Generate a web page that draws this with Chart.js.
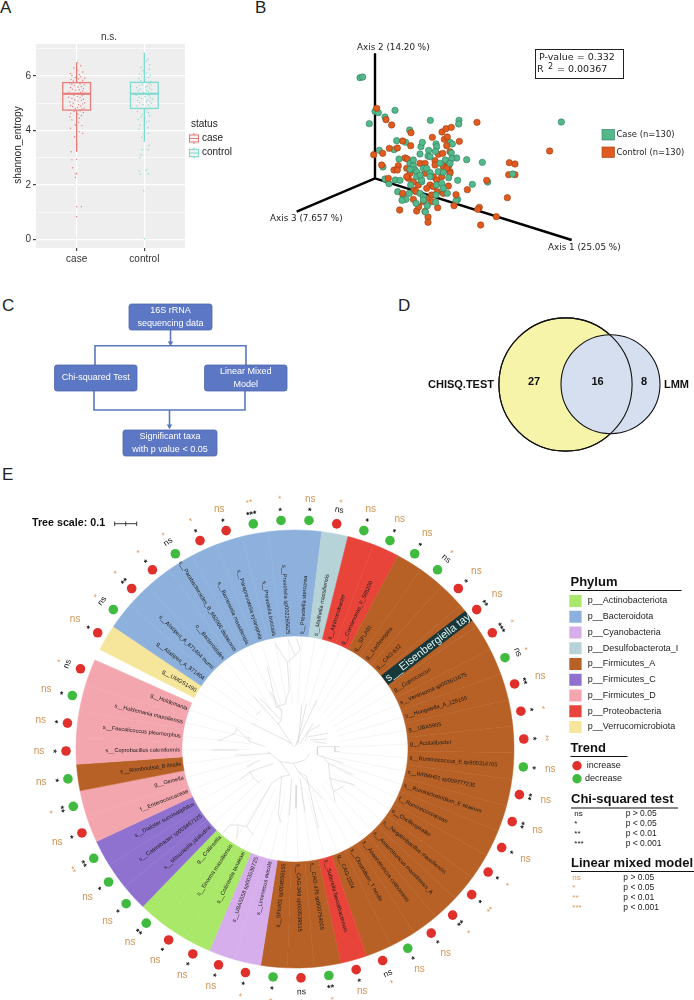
<!DOCTYPE html>
<html>
<head>
<meta charset="utf-8">
<title>Microbiome figure</title>
<script src="https://cdn.jsdelivr.net/npm/chart.js@4"></script>
<style>
  html, body { margin: 0; padding: 0; background: #fff; width: 694px; height: 1000px; overflow: hidden; }
  canvas { position: absolute; }
  .panel { position: absolute; font: 300 17px/1 "Liberation Sans", sans-serif; color: #222; }
</style>
</head>
<body>
<div class="panel" style="left:0;top:-1px">A</div>
<div class="panel" style="left:255px;top:-1px">B</div>
<div class="panel" style="left:2px;top:297px">C</div>
<div class="panel" style="left:398px;top:297px">D</div>
<div class="panel" style="left:2px;top:466px">E</div>

<canvas id="boxChart" width="250" height="270" style="left:0;top:0"></canvas>
<canvas id="pcoaChart" width="444" height="270" style="left:250px;top:0"></canvas>
<canvas id="flowChart" width="320" height="190" style="left:0;top:280px"></canvas>
<canvas id="vennChart" width="374" height="190" style="left:320px;top:280px"></canvas>
<canvas id="ringChart" width="694" height="520" style="left:0;top:489px"></canvas>
<canvas id="treeChart" width="230" height="230" style="left:180px;top:635px"></canvas>

<script>
// ---------- panel A data ----------
const boxGroups = ['case', 'control'];
const boxQ1 = [4.75, 4.81];
const boxMedian = [5.35, 5.35];
const boxQ3 = [5.76, 5.77];
const boxLow = [3.22, 3.59];
const boxHigh = [6.5, 6.84];
const boxColors = ['#e67d7b', '#7fdbd0'];
const shannonTicks = [0, 1, 2, 3, 4, 5, 6, 7];

const caseShannon = [0.83, 1.2, 1.2, 2.27, 2.4, 2.43, 2.63, 2.92, 2.94, 3.22,
  3.26, 3.4, 3.5, 3.62, 3.77, 3.9, 3.96, 4.08, 4.18, 4.2,
  4.3, 4.39, 4.45, 4.5, 4.55, 4.6, 4.63, 4.66, 4.7, 4.72,
  4.75, 4.78, 4.8, 4.82, 4.85, 4.88, 4.9, 4.92, 4.95, 4.98,
  5.0, 5.02, 5.05, 5.08, 5.1, 5.12, 5.15, 5.18, 5.2, 5.22,
  5.25, 5.28, 5.3, 5.32, 5.35, 5.37, 5.4, 5.42, 5.45, 5.48,
  5.5, 5.52, 5.55, 5.58, 5.6, 5.62, 5.65, 5.68, 5.7, 5.72,
  5.75, 5.78, 5.8, 5.82, 5.85, 5.88, 5.9, 5.92, 5.95, 5.98,
  6.02, 6.05, 6.1, 6.15, 6.22, 6.3, 6.38, 6.5];
const caseJitter = [0, 0, 0.07, -0.02, -0.01, 0, -0.06, -0.07, 0, -0.08,
  0, 0, 0.01, 0, -0.03, 0.09, 0.04, -0.09, 0.08, -0.02,
  0.03, -0.07, 0.04, -0.1, 0.07, 0.02, -0.09, 0.1, -0.04, 0.05,
  -0.11, 0.08, -0.02, 0.11, 0.01, -0.06, 0.06, -0.09, 0.03, 0.09,
  -0.05, 0.12, -0.1, 0.02, 0.07, -0.03, 0.1, -0.07, 0.05, -0.12,
  0.01, 0.08, -0.04, 0.11, -0.08, 0.03, 0.06, -0.11, 0.09, -0.01,
  0.04, -0.06, 0.1, -0.09, 0.02, 0.07, -0.03, 0.11, -0.07, 0.05,
  -0.1, 0.08, 0, -0.05, 0.09, -0.08, 0.03, 0.12, -0.02, 0.06,
  -0.07, 0.04, -0.09, 0.09, 0.02, -0.04, 0.06, 0.01];
const controlShannon = [0.02, 1.78, 2.4, 2.4, 2.5, 2.55, 3.0, 3.1, 3.3, 3.3,
  3.45, 3.6, 3.75, 3.9, 4.05, 4.1, 4.2, 4.3, 4.35, 4.4,
  4.45, 4.5, 4.55, 4.6, 4.65, 4.7, 4.75, 4.8, 4.83, 4.86,
  4.9, 4.93, 4.96, 5.0, 5.03, 5.06, 5.08, 5.1, 5.12, 5.15,
  5.18, 5.2, 5.22, 5.25, 5.28, 5.3, 5.33, 5.36, 5.38, 5.4,
  5.43, 5.46, 5.48, 5.5, 5.53, 5.56, 5.58, 5.6, 5.63, 5.66,
  5.68, 5.7, 5.73, 5.76, 5.78, 5.8, 5.83, 5.86, 5.9, 5.95,
  6.0, 6.03, 6.08, 6.12, 6.2, 6.25, 6.32, 6.42, 6.55, 6.62, 6.84];
const controlJitter = [0, -0.01, -0.06, 0.06, -0.08, 0.03, -0.07, -0.05, -0.03, 0.05,
  0.07, 0, -0.04, 0.06, -0.08, 0.05, -0.06, 0.03, 0.07, -0.09,
  0.01, -0.05, 0.08, -0.03, 0.06, -0.1, 0.04, -0.07, 0.09, 0.02,
  -0.11, 0.06, -0.02, 0.1, -0.07, 0.03, 0.08, -0.1, 0.05, 0.12,
  -0.04, 0.09, -0.08, 0.01, 0.07, -0.12, 0.04, -0.05, 0.1, -0.01,
  0.06, -0.09, 0.03, 0.11, -0.06, 0.08, -0.11, 0.02, 0.05, -0.07,
  0.1, -0.03, 0.07, -0.1, 0.04, 0.09, -0.05, 0.01, -0.08, 0.06,
  -0.04, 0.09, -0.07, 0.03, -0.02, 0.07, -0.05, 0.08, 0.03, 0.05, 0];

// ---------- panel B data (projected axis positions, y grows downward) ----------
const caseBackX = [330, 338, 375, 385, 435, 405, 358, 541, 627, 626, 934, 479, 440, 467, 388, 432, 513, 517, 558, 560, 600, 607, 399, 405, 436, 450, 417, 443, 459, 468, 456, 713, 623, 618];
const caseBackY = [233, 231, 334, 338, 331, 351, 371, 361, 361, 372, 366, 390, 422, 427, 451, 449, 440, 427, 432, 440, 427, 432, 501, 537, 540, 541, 551, 575, 588, 598, 601, 546, 598, 603];
const controlX = [380, 408, 425, 483, 371, 398, 395, 418, 442, 458, 482, 547, 576, 588, 604, 681, 583, 592, 628, 590, 899, 778, 795, 776, 795, 710, 652, 772, 618, 612, 688, 683, 739, 692, 449, 534, 534, 500, 525, 506, 563, 545, 520, 490, 458, 492, 475, 480, 470, 445, 432, 442, 415, 465, 472, 510, 525, 555, 565, 578, 596, 590, 580, 600, 555, 550, 540, 530, 545, 562, 580, 595, 600, 575, 498, 530, 505, 490, 470, 550, 590, 525, 560, 600];
const controlY = [325, 359, 375, 398, 464, 460, 495, 445, 444, 423, 437, 412, 396, 386, 382, 367, 418, 411, 424, 437, 453, 488, 492, 524, 524, 541, 569, 593, 584, 617, 622, 628, 650, 675, 630, 651, 667, 633, 634, 620, 623, 605, 605, 598, 580, 570, 535, 520, 505, 497, 510, 510, 535, 474, 477, 490, 490, 482, 463, 460, 497, 495, 500, 515, 495, 530, 555, 565, 585, 575, 580, 558, 520, 530, 575, 595, 555, 545, 530, 560, 505, 520, 540, 455];
const caseFrontX = [556, 536, 510, 604, 620, 605, 586, 650, 697, 534, 447, 480, 490, 495, 480, 500, 520, 540, 565, 580, 596, 623, 667, 478, 482, 515, 510, 520, 515, 540, 560, 575, 580, 558, 520, 498, 557, 532, 526, 592, 500, 540, 490, 570, 600, 530, 510, 788];
const caseFrontY = [454, 451, 462, 459, 474, 476, 480, 479, 487, 468, 477, 490, 497, 510, 508, 516, 505, 518, 515, 517, 533, 541, 553, 580, 555, 545, 580, 590, 540, 530, 555, 550, 565, 585, 600, 610, 607, 617, 636, 580, 530, 470, 480, 490, 490, 505, 525, 522];
const axisX = [375, 375, null, 375, 965, null, 375, 140];
const axisY = [535, 160, null, 535, 720, null, 535, 635];
const pcoaLegend = ['Case (n=130)', 'Control (n=130)'];
const pcoaColors = ['#53b98b', '#e15a20'];
const pcoaBorders = ['#2f7a5c', '#96400f'];

// ---------- panel C data (page layout units) ----------
const flowBoxNames = [['16S rRNA', 'sequencing data'], ['Chi-squared Test'], ['Linear Mixed', 'Model'], ['Significant taxa', 'with p value < 0.05']];
const flowBoxLeft = [129, 54.5, 204.5, 123];
const flowBoxRight = [212, 137, 287, 217];
const flowBoxTop = [304, 365, 365, 430];
const flowBoxBottom = [330, 391, 391, 456];
const flowLineX = [170.5, 170.5, null, 95, 95, 246, 246, null, 94, 94, 245, 245, null, 169.5, 169.5];
const flowLineY = [330, 344, null, 365, 345.7, 345.7, 365, null, 391, 410, 410, 391, null, 410, 427];
const flowArrowX = [170.5, 169.5];
const flowArrowY = [343, 426];

// ---------- panel D data ----------
const vennNames = ['CHISQ.TEST', 'LMM'];
const vennCounts = ['27', '16', '8'];
const vennX = [565.5, 610.5];
const vennY = [384.5, 384.2];
const vennR = [66.6, 49.5];

// ---------- panel E data ----------
const phylumNames = ['p__Actinobacteriota', 'p__Bacteroidota', 'p__Cyanobacteria', 'p__Desulfobacterota_I', 'p__Firmicutes_A',
  'p__Firmicutes_C', 'p__Firmicutes_D', 'p__Proteobacteria', 'p__Verrucomicrobiota'];
const phylumColors = ['#a9e868', '#8db1dc', '#d7aeec', '#b6d3d8', '#b86126', '#8f72cf', '#f3a6ae', '#e9443a', '#f5e69b'];
const trendNames = ['increase', 'decrease'];
const trendColors = ['#e0302b', '#40bb40'];
const sigLevels = ['ns', '*', '**', '***'];
const sigThresholds = ['p > 0.05', 'p < 0.05', 'p < 0.01', 'p < 0.001'];

const taxa = ['g__UMGS1490', 'g__Alistipes_A_871404', 's__Alistipes_A_871404 ihumii', 'o__Bacteroidales',
  's__Parabacteroides_B_862066 distasonis', 's__Barnesiella massiliensis', 's__Paraprevotella xylaniphila',
  's__Prevotella buccalis', 's__Prevotella sp002265625', 's__Prevotella stercorea', 's__Mailhella massiliensis',
  's__Atrimonobacter', 'g__Comamonas_F_585200', 'g__SFLA01', 'g__Lachnospira', 'g__CAG-632',
  's__Eisenbergiella tay', 'g__Coprococcus', 's__Ventrisoma sp003611675', 's__Hungatella_A_128155', 'g__UBA5905',
  'g__Acutalibacter', 's__Ruminococcus_E sp900314705', 's__WRMH01 sp009777235', 's__Ruminiclostridium_E siraeum',
  'f__Ruminococcaceae', 'o__Oscillospirales', 's__Negativibacillus massiliensis', 's__Anaerotruncus massiliensis_A',
  's__Anaerotruncus colihominis', 's__Clostridium_T nexile', 'g__CAG-1024', 's__Sutterella faecalibacterium',
  's__CAG-475 sp900754005', 's__CAG-349 sp003539515', 's__SFMI01 sp004556155', 's__Limenecus avicola',
  's__UBA5558 sp003539725', 's__Collinsella tanakaei', 's__Enorma massiliensis', 'g__Collinsella',
  's__Mitsuokella jalaludinii', 's__Catenibacter sp003467125', 's__Dialister succinatiphilus', 'f__Enterococcaceae',
  'g__Gemella', 's__Romboutsia_B ilealis', 's__Coprobacillus cateniformis', 's__Faecalicoccus pleomorphus',
  's__Holdemania massiliensis', 'g__Holdemania'];
const taxonPhylum = [8, 1, 1, 1, 1, 1, 1, 1, 1, 1, 3, 7, 7,
  4, 4, 4, 4, 4, 4, 4, 4, 4, 4, 4, 4, 4, 4, 4, 4, 4, 4, 4,
  7, 4, 4, 4, 2, 2, 0, 0, 0, 5, 5, 5, 6, 6, 4, 6, 6, 6, 6];
const taxonWeight = [1, 1, 1, 1, 1, 1, 1, 1, 1, 1, 1, 1, 1, 1, 1, 1, 1, 1, 1, 1, 1, 1, 1, 1, 1, 1,
  1, 1, 1, 1, 1, 1, 1, 1, 1, 1, 1, 1, 1, 1, 1, 1, 1, 1, 1, 1, 1, 1, 1, 1, 1];
// 0 increase, 1 decrease
const taxonTrend = [0, 1, 0, 0, 1, 0, 0, 1, 1, 1,
  0, 1, 1, 1, 1, 0, 0, 0, 1, 0,
  0, 0, 1, 0, 0, 0, 0, 0, 0, 0,
  1, 0, 0, 1, 0, 1, 0, 0, 0, 0,
  1, 1, 1, 1, 0, 1, 1, 0, 0, 1, 0];
const chiSig = ['*', 'ns', '**', '*', 'ns', '*', '*', '***', '*', '*',
  'ns', '*', '*', '*', 'ns', '*', '**', '***', 'ns', '**',
  '*', '*', '*', '**', '**', '*', '*', '*', '**', '*',
  '*', 'ns', '*', '**', 'ns', '*', '*', '*', '*', '*',
  '**', '*', '*', '**', '*', '**', '*', '*', '*', '*', 'ns'];
const lmmSig = ['ns', '*', '*', '*', '*', '*', 'ns', '**', '*', 'ns',
  '*', 'ns', 'ns', 'ns', '*', 'ns', 'ns', '*', '*', 'ns',
  '*', '**', 'ns', 'ns', 'ns', 'ns', '*', '**', '*', 'ns',
  'ns', '*', 'ns', '*', '*', '*', '*', 'ns', 'ns', 'ns',
  'ns', 'ns', 'ns', '**', 'ns', '*', 'ns', 'ns', 'ns', 'ns', '*'];
const highlightTaxon = 's__Eisenbergiella tay';

// tree branches, in the coordinates of the inner circle crop; null breaks a branch
const treeX = [340, 295, 222, null, 295, 303, 240, null, 303, 306, 270, null, 306, 289, 262, null, 289, 314, 328, 322, 285, null,
  322, 345, 325, null, 345, 360, 350, null, 335, 215, null, 228, 245, null, 345, 410, null, 350, 380, null, 355, 365, null,
  360, 400, null, 375, 385, 420, null, 385, 445, null, 390, 440, null, 400, 440, null, 412, 480, null, 465, 465, 480, null,
  412, 412, 490, null, 425, 445, 520, null, 445, 450, 525, null, 450, 460, 490, null, 460, 465, null,
  390, 375, 340, 300, 270, 262, null, 340, 355, 425, null, 355, 380, 415, null, 360, 375, null, 350, 348, null, 335, 328, null,
  300, 330, 305, 295, 305, null, 305, 275, 200, 220, null, 200, 175, 170, null, 175, 150, 132, null,
  270, 205, 165, null, 255, 210, 170, 165, 115, null, 210, 205, null, 175, 95, null, 280, 210, 180, null, 210, 220, 240, null, 240, 200];
const treeY = [335, 268, 185, null, 268, 256, 190, null, 256, 228, 170, null, 228, 215, 95, null, 215, 208, 165, 82, 25, null,
  82, 62, 15, null, 62, 45, 10, null, 325, 265, null, 240, 225, null, 335, 195, null, 330, 205, null, 325, 210, null,
  325, 265, null, 320, 290, 270, null, 305, 295, null, 315, 312, null, 320, 325, null, 335, 335, null, 335, 350, 350, null,
  335, 360, 385, null, 360, 385, 420, null, 385, 430, 450, null, 430, 470, 455, null, 470, 500, null,
  355, 375, 385, 380, 355, 350, null, 385, 410, 490, null, 410, 425, 580, null, 430, 530, null, 450, 520, null, 430, 540, null,
  380, 420, 425, 540, 565, null, 425, 445, 575, 600, null, 575, 570, 610, null, 570, 570, 590, null,
  355, 360, 360, null, 335, 320, 280, 295, 318, null, 320, 305, null, 345, 345, null, 385, 410, 435, null, 410, 430, 445, null, 375, 395];

// ---------- shared helpers ----------
const SANS = '"Liberation Sans", Arial, sans-serif';
const DEJA = '"DejaVu Sans", Verdana, sans-serif';
Chart.defaults.font.family = SANS;
Chart.defaults.animation = false;
Chart.defaults.responsive = false;
Chart.defaults.devicePixelRatio = 1;
Chart.defaults.layout.autoPadding = false;
Chart.defaults.plugins.legend.display = false;
Chart.defaults.plugins.tooltip.enabled = false;

const toPoints = (xs, ys) => xs.map((x, i) => (x === null ? { x: NaN, y: NaN } : { x: x, y: ys[i] }));

function put(ctx, text, x, y, font, color, align, rot) {
  ctx.save();
  ctx.translate(x, y);
  if (rot) ctx.rotate(rot);
  ctx.font = font;
  ctx.fillStyle = color;
  ctx.textAlign = align || 'left';
  ctx.textBaseline = 'middle';
  ctx.fillText(text, 0, 0);
  ctx.restore();
}

// ---------- panel A ----------
new Chart(document.getElementById('boxChart'), {
  type: 'scatter',
  data: {
    datasets: [
      { data: caseJitter.map((j, i) => ({ x: 1 + j, y: caseShannon[i] })), pointRadius: 0.7, pointBackgroundColor: boxColors[0], pointBorderWidth: 0 },
      { data: controlJitter.map((j, i) => ({ x: 2 + j, y: controlShannon[i] })), pointRadius: 0.7, pointBackgroundColor: boxColors[1], pointBorderWidth: 0 }
    ]
  },
  options: {
    layout: { padding: { top: 44, right: 65 } },
    scales: {
      x: {
        min: 0.4, max: 2.6,
        afterFit: s => { s.height = 22; },
        afterBuildTicks: s => { s.ticks = boxGroups.map((g, i) => ({ value: i + 1 })); },
        ticks: { callback: v => boxGroups[v - 1], color: '#333', font: { size: 10 }, padding: 2, maxRotation: 0 },
        grid: { color: '#fff', lineWidth: 1.2, tickColor: '#444', tickLength: 3 },
        border: { display: false }
      },
      y: {
        min: -0.32, max: 7.18,
        afterFit: s => { s.width = 36; },
        afterBuildTicks: s => { s.ticks = shannonTicks.map(v => ({ value: v })); },
        ticks: { autoSkip: false, callback: v => (v % 2 === 0 ? v : ''), color: '#333', font: { size: 10 }, padding: 2 },
        grid: {
          color: '#fff',
          lineWidth: c => (c.tick && c.tick.value % 2 === 0 ? 1.2 : 0.6),
          tickColor: c => (c.tick && c.tick.value % 2 === 0 ? '#444' : 'rgba(0,0,0,0)'),
          tickLength: 3
        },
        border: { display: false }
      }
    }
  },
  plugins: [{
    id: 'panelBack',
    beforeDraw(chart) {
      const { ctx, chartArea: a } = chart;
      ctx.fillStyle = '#eeeeee';
      ctx.fillRect(a.left, a.top, a.width, a.height);
    },
    afterDatasetsDraw(chart) {
      const { ctx, scales: { x, y } } = chart;
      boxGroups.forEach((g, i) => {
        const cx = x.getPixelForValue(i + 1);
        const half = x.getPixelForValue(0.205) - x.getPixelForValue(0);
        ctx.strokeStyle = boxColors[i];
        ctx.lineWidth = 1.3;
        ctx.beginPath();
        ctx.moveTo(cx, y.getPixelForValue(boxHigh[i]));
        ctx.lineTo(cx, y.getPixelForValue(boxQ3[i]));
        ctx.moveTo(cx, y.getPixelForValue(boxQ1[i]));
        ctx.lineTo(cx, y.getPixelForValue(boxLow[i]));
        ctx.stroke();
        ctx.strokeRect(cx - half, y.getPixelForValue(boxQ3[i]), half * 2, y.getPixelForValue(boxQ1[i]) - y.getPixelForValue(boxQ3[i]));
        ctx.lineWidth = 2.2;
        ctx.beginPath();
        ctx.moveTo(cx - half, y.getPixelForValue(boxMedian[i]));
        ctx.lineTo(cx + half, y.getPixelForValue(boxMedian[i]));
        ctx.stroke();
      });
    },
    afterDraw(chart) {
      const { ctx } = chart;
      const font = '10px ' + SANS;
      put(ctx, 'n.s.', 109, 37, font, '#333', 'center');
      put(ctx, 'shannon_entropy', 18, 145, font, '#222', 'center', -Math.PI / 2);
      put(ctx, 'status', 191, 124, font, '#222');
      boxGroups.forEach((g, i) => {
        const ky = 138 + i * 14.5;
        ctx.strokeStyle = boxColors[i];
        ctx.lineWidth = 1;
        ctx.fillStyle = '#f2f2f2';
        ctx.fillRect(188.5, ky - 5, 11, 11);
        ctx.strokeRect(189.5, ky - 3, 9, 7);
        ctx.beginPath();
        ctx.moveTo(189.5, ky + 0.5); ctx.lineTo(198.5, ky + 0.5);
        ctx.moveTo(194, ky - 5); ctx.lineTo(194, ky - 3);
        ctx.moveTo(194, ky + 4); ctx.lineTo(194, ky + 6);
        ctx.stroke();
        put(ctx, g, 202, ky, font, '#222');
      });
    }
  }]
});

// ---------- panel B ----------
const pcoaSet = (xs, ys, c) => ({
  data: toPoints(xs, ys), pointRadius: 3.2, pointBackgroundColor: pcoaColors[c],
  pointBorderColor: pcoaBorders[c], pointBorderWidth: 0.6
});
new Chart(document.getElementById('pcoaChart'), {
  type: 'scatter',
  data: {
    datasets: [
      pcoaSet(caseFrontX, caseFrontY, 0),
      pcoaSet(controlX, controlY, 1),
      pcoaSet(caseBackX, caseBackY, 0),
      { data: toPoints(axisX, axisY), showLine: true, spanGaps: false, pointRadius: 0, borderColor: '#000', borderWidth: 2.4 }
    ]
  },
  options: {
    scales: {
      x: { display: false, min: 0, max: 1332 },
      y: { display: false, min: 0, max: 810, reverse: true }
    }
  },
  plugins: [{
    id: 'pcoaText',
    afterDraw(chart) {
      const { ctx } = chart;
      const font = '8.8px ' + DEJA;
      put(ctx, 'Axis 2 (14.20 %)', 107, 48, font, '#222');
      put(ctx, 'Axis 3 (7.657 %)', 20, 219, font, '#222');
      put(ctx, 'Axis 1 (25.05 %)', 298, 248, font, '#222');
      ctx.fillStyle = '#fff';
      ctx.strokeStyle = '#222';
      ctx.lineWidth = 1;
      ctx.fillRect(285.5, 49.5, 88, 29);
      ctx.strokeRect(285.5, 49.5, 88, 29);
      const big = '9.5px ' + DEJA;
      put(ctx, 'P-value = 0.332', 289, 57.5, big, '#222');
      put(ctx, 'R', 287, 69.5, big, '#222');
      put(ctx, '2', 298, 67, '8px ' + DEJA, '#222');
      put(ctx, '= 0.00367', 307, 69.5, big, '#222');
      pcoaLegend.forEach((t, i) => {
        ctx.fillStyle = pcoaColors[i];
        ctx.strokeStyle = pcoaBorders[i];
        ctx.lineWidth = 0.6;
        ctx.fillRect(352, 129.5 + i * 17.5, 12.5, 10.5);
        ctx.strokeRect(352, 129.5 + i * 17.5, 12.5, 10.5);
        put(ctx, t, 366.5, 135 + i * 17.5, '8.4px ' + DEJA, '#222');
      });
    }
  }]
});

// ---------- panel C ----------
new Chart(document.getElementById('flowChart'), {
  type: 'scatter',
  data: {
    datasets: [
      { data: toPoints(flowArrowX, flowArrowY), pointStyle: 'triangle', rotation: 180, pointRadius: 3.2, pointBackgroundColor: '#5a77c0', pointBorderWidth: 0 },
      { data: toPoints(flowLineX, flowLineY), showLine: true, spanGaps: false, pointRadius: 0, borderColor: '#5a77c0', borderWidth: 1.6 }
    ]
  },
  options: {
    scales: {
      x: { display: false, min: 0, max: 320 },
      y: { display: false, min: 280, max: 470, reverse: true }
    }
  },
  plugins: [{
    id: 'flowBoxes',
    afterDatasetsDraw(chart) {
      const { ctx, scales: { x, y } } = chart;
      flowBoxNames.forEach((lines, i) => {
        const l = x.getPixelForValue(flowBoxLeft[i]), r = x.getPixelForValue(flowBoxRight[i]);
        const t = y.getPixelForValue(flowBoxTop[i]), b = y.getPixelForValue(flowBoxBottom[i]);
        ctx.beginPath();
        ctx.roundRect(l, t, r - l, b - t, 2.5);
        ctx.fillStyle = '#5c77c3';
        ctx.fill();
        ctx.strokeStyle = '#4f68ad';
        ctx.lineWidth = 0.8;
        ctx.stroke();
        lines.forEach((s, k) => {
          const cy = (t + b) / 2 + (k - (lines.length - 1) / 2) * 12.4;
          put(ctx, s, (l + r) / 2, cy, '9px ' + SANS, '#fff', 'center');
        });
      });
    }
  }]
});

// ---------- panel D ----------
new Chart(document.getElementById('vennChart'), {
  type: 'bubble',
  data: {
    datasets: [
      { data: [{ x: vennX[0], y: vennY[0], r: vennR[0] }], backgroundColor: 'rgba(0,0,0,0)', borderColor: '#111', borderWidth: 1.1 },
      { data: [{ x: vennX[1], y: vennY[1], r: vennR[1] }], backgroundColor: '#d6dff0', borderColor: '#111', borderWidth: 1.1 },
      { data: [{ x: vennX[0], y: vennY[0], r: vennR[0] }], backgroundColor: '#f6f4a9', borderColor: '#111', borderWidth: 1.1 }
    ]
  },
  options: {
    clip: false,
    scales: {
      x: { display: false, min: 320, max: 694 },
      y: { display: false, min: 280, max: 470, reverse: true }
    }
  },
  plugins: [{
    id: 'vennText',
    afterDraw(chart) {
      const { ctx, scales: { x, y } } = chart;
      const bold = 'bold 11px ' + SANS;
      put(ctx, vennNames[0], x.getPixelForValue(461), y.getPixelForValue(384.7), bold, '#111', 'center');
      put(ctx, vennNames[1], x.getPixelForValue(676.5), y.getPixelForValue(384.7), bold, '#111', 'center');
      put(ctx, vennCounts[0], x.getPixelForValue(534), y.getPixelForValue(382), bold, '#111', 'center');
      put(ctx, vennCounts[1], x.getPixelForValue(597.5), y.getPixelForValue(382), bold, '#111', 'center');
      put(ctx, vennCounts[2], x.getPixelForValue(644), y.getPixelForValue(382), bold, '#111', 'center');
    }
  }]
});

// ---------- panel E ----------
function drawSig(ctx, cx, cy, mid, sig, kind) {
  const cos = Math.cos(mid), sin = Math.sin(mid);
  // mid is measured from +x; keep text upright around the ring
  let rot = mid + Math.PI / 2;
  if (sin > 0) rot += Math.PI;
  if (sig === 'ns') {
    if (kind === 'chi') {
      put(ctx, 'ns', cx + cos * 243, cy + sin * 243, '8.5px ' + SANS, '#111', 'center', rot);
    } else {
      const r = 250 + 6 * Math.abs(cos);
      put(ctx, 'ns', cx + cos * r, cy + sin * r, '10px ' + SANS, '#cf9355', 'center');
    }
    return;
  }
  const r = kind === 'chi' ? 240 : 252;
  const size = kind === 'chi' ? 9 : 8.5;
  const color = kind === 'chi' ? '#111' : '#d9934f';
  ctx.save();
  ctx.translate(cx + cos * r, cy + sin * r);
  ctx.rotate(rot);
  ctx.font = (kind === 'chi' ? 'bold ' : '') + size + 'px ' + SANS;
  ctx.fillStyle = color;
  ctx.textAlign = 'center';
  ctx.textBaseline = 'middle';
  ctx.fillText(sig, 0, size * 0.22);
  ctx.restore();
}

new Chart(document.getElementById('ringChart'), {
  type: 'doughnut',
  data: {
    labels: taxa,
    datasets: [{
      data: taxonWeight,
      backgroundColor: taxonPhylum.map(p => phylumColors[p]),
      borderColor: taxonPhylum.map(p => phylumColors[p]),
      borderWidth: 0.5
    }]
  },
  options: {
    layout: { padding: { right: 104 } },
    rotation: 297,
    circumference: 357,
    radius: 219,
    cutout: '51.6%'
  },
  plugins: [{
    id: 'ringMarks',
    afterDatasetsDraw(chart) {
      const { ctx } = chart;
      chart.getDatasetMeta(0).data.forEach((arc, i) => {
        const mid = (arc.startAngle + arc.endAngle) / 2;
        const cos = Math.cos(mid), sin = Math.sin(mid);
        const cx = arc.x, cy = arc.y;

        // faint leaf guide inside the ring
        ctx.strokeStyle = '#f1f1f1';
        ctx.lineWidth = 0.7;
        ctx.beginPath();
        ctx.moveTo(cx + cos * (arc.innerRadius - 1), cy + sin * (arc.innerRadius - 1));
        ctx.lineTo(cx + cos * 45, cy + sin * 45);
        ctx.stroke();

        // taxon name along the radius
        const rightSide = cos >= 0;
        if (taxa[i] === highlightTaxon) {
          ctx.save();
          ctx.translate(cx, cy);
          ctx.rotate(mid);
          ctx.fillStyle = '#17383b';
          ctx.fillRect(arc.innerRadius, -6, arc.outerRadius - arc.innerRadius, 12);
          ctx.beginPath();
          ctx.rect(arc.innerRadius, -6, arc.outerRadius - arc.innerRadius, 12);
          ctx.clip();
          ctx.font = '11px ' + SANS;
          ctx.fillStyle = '#dff3ee';
          ctx.textBaseline = 'middle';
          ctx.textAlign = 'left';
          ctx.fillText(taxa[i], arc.innerRadius + 2, 0.5);
          ctx.restore();
        } else {
          const r0 = arc.innerRadius + 2;
          put(ctx, taxa[i], cx + cos * r0, cy + sin * r0, '5.6px ' + SANS, '#1c1c1c', rightSide ? 'left' : 'right', rightSide ? mid : mid + Math.PI);
        }

        // trend dot and significance marks outside the ring
        ctx.beginPath();
        ctx.arc(cx + cos * 229, cy + sin * 229, 4.8, 0, Math.PI * 2);
        ctx.fillStyle = trendColors[taxonTrend[i]];
        ctx.fill();
        drawSig(ctx, cx, cy, mid, chiSig[i], 'chi');
        drawSig(ctx, cx, cy, mid, lmmSig[i], 'lmm');
      });
    },
    afterDraw(chart) {
      const { ctx } = chart;
      const y0 = -489; // page to canvas
      const h = (t, x, y, uw) => {
        put(ctx, t, x, y + y0, 'bold 13px ' + SANS, '#111');
        ctx.fillStyle = '#111';
        ctx.fillRect(x, y + y0 + 8, uw, 1);
      };
      put(ctx, 'Tree scale: 0.1', 32, 523.5 + y0, 'bold 10.7px ' + SANS, '#111');
      ctx.strokeStyle = '#222';
      ctx.lineWidth = 0.9;
      ctx.beginPath();
      ctx.moveTo(114.7, 523.7 + y0); ctx.lineTo(136.7, 523.7 + y0);
      [114.7, 125.7, 136.7].forEach(v => {
        ctx.moveTo(v, 521.5 + y0); ctx.lineTo(v, 526 + y0);
      });
      ctx.stroke();

      h('Phylum', 570.5, 582, 111);
      phylumNames.forEach((p, i) => {
        const cy = 601 + i * 15.75 + y0;
        ctx.fillStyle = phylumColors[i];
        ctx.fillRect(569.3, cy - 6, 12.3, 12);
        put(ctx, p, 587.7, cy, '9px ' + SANS, '#222');
      });

      h('Trend', 570.5, 748, 57);
      trendNames.forEach((t, i) => {
        const cy = 765.7 + i * 13 + y0;
        ctx.beginPath();
        ctx.arc(577, cy, 4.7, 0, Math.PI * 2);
        ctx.fillStyle = trendColors[i];
        ctx.fill();
        put(ctx, t, i ? 585 : 586.7, cy, '9px ' + SANS, '#222');
      });

      h('Chi-squared test', 571, 799.5, 107);
      sigLevels.forEach((s, i) => {
        const cy = 813.7 + i * 9.9 + y0;
        put(ctx, s, 574.3, cy, '8px ' + SANS, '#111');
        put(ctx, sigThresholds[i], 625.7, cy, '8.5px ' + SANS, '#222');
      });

      h('Linear mixed model', 571, 863, 123);
      sigLevels.forEach((s, i) => {
        const cy = 877.3 + i * 10.1 + y0;
        put(ctx, s, 572.3, cy, '8px ' + SANS, '#d9985a');
        put(ctx, sigThresholds[i], 623.3, cy, '8.5px ' + SANS, '#222');
      });
    }
  }]
});

new Chart(document.getElementById('treeChart'), {
  type: 'scatter',
  data: {
    datasets: [{
      data: toPoints(treeX, treeY), showLine: true, spanGaps: false,
      pointRadius: 0, borderColor: '#d2d2d2', borderWidth: 0.6
    }]
  },
  options: {
    scales: {
      x: { display: false, min: 0, max: 690 },
      y: { display: false, min: 0, max: 690, reverse: true }
    }
  }
});
</script>
</body>
</html>
